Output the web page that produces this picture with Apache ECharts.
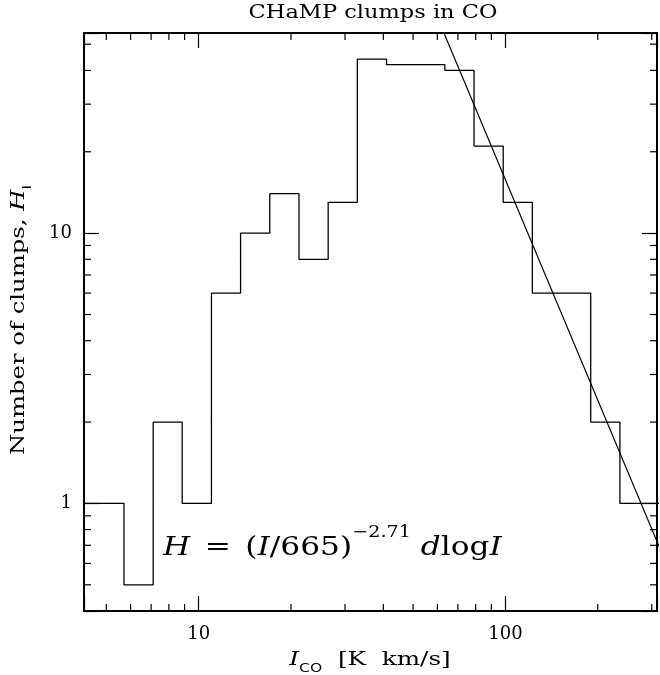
<!DOCTYPE html>
<html><head><meta charset="utf-8">
<script src="https://cdn.jsdelivr.net/npm/echarts@6/dist/echarts.min.js"></script>
<style>html,body{margin:0;padding:0;background:#fff}#c{width:660px;height:675px}</style>
</head><body><div id="c"></div>
<script>
// ---- data ----
const binEdges = [4.0, 5.71, 7.11, 8.84, 11.01, 13.70, 17.06, 21.24, 26.44, 32.91, 40.97, 51.00, 63.48, 79.02, 98.36, 122.4, 152.4, 189.7, 236.2, 340];
const counts   = [1, 0.5, 2, 1, 6, 10, 14, 8, 13, 44, 42, 42, 40, 21, 13, 6, 6, 2, 1];
const fitI = [60, 340];
const fitH = [62.9, 0.573];
const xMajorLabels = [10, 100];
const yMajorLabels = [1, 10];
const xMinorTicks = [5, 6, 7, 8, 9, 20, 30, 40, 50, 60, 70, 80, 90, 200, 300];
const yMinorTicks = [0.5, 0.6, 0.7, 0.8, 0.9, 2, 3, 4, 5, 6, 7, 8, 9, 20, 30, 40, 50];
const xRange = [4.23, 312];
const yRange = [0.4, 55];
const titleText = 'CHaMP clumps in CO';

// ---- build ----
const FONT = 'DejaVu Serif';
const histData = counts.map((c, i) => [binEdges[i], c]);
histData.push([binEdges[binEdges.length - 1], counts[counts.length - 1]]);
const fitData = fitI.map((v, i) => [v, fitH[i]]);

const labelFmt = (list) => (v) => {
  for (const t of list) if (Math.abs(v - t) / t < 1e-6) return String(t);
  return '';
};
const lineC = '#000';
function baseAxis(pos, range, showLabel, list) {
  return {
    type: 'log', logBase: 10, position: pos, min: range[0], max: range[1],
    axisLine: { show: true, onZero: false, lineStyle: { color: lineC, width: 2 } },
    axisTick: { show: true, inside: true, length: 15, lineStyle: { color: lineC, width: 1.2 } },
    axisLabel: { show: showLabel, color: '#000', fontFamily: FONT, fontSize: 18, margin: 14,
                 formatter: labelFmt(list || []) },
    splitLine: { show: false }, minorTick: { show: false }
  };
}
const xBottom = baseAxis('bottom', xRange, true, xMajorLabels);
const xTop = baseAxis('top', xRange, false);
const yLeft = baseAxis('left', yRange, true, yMajorLabels);
yLeft.axisLabel.margin = 12;
const yRight = baseAxis('right', yRange, false);

const tickStyle = { stroke: '#000', lineWidth: 1.2 };
const richBase = (size) => ({
  it: { fontFamily: FONT, fontStyle: 'italic', fontSize: size, fill: '#000', lineHeight: size + 10 },
  n: { fontFamily: FONT, fontSize: size, fill: '#000', lineHeight: size + 10 },
  sub: { fontFamily: 'DejaVu Sans', fontSize: 12, fill: '#000', lineHeight: 12, verticalAlign: 'bottom' }
});

const option = {
  animation: false,
  backgroundColor: '#fff',
  grid: { left: 84, top: 33, right: 1, bottom: 64, containLabel: false },
  xAxis: [xBottom, xTop],
  yAxis: [yLeft, yRight],
  series: [
    { type: 'line', xAxisIndex: 0, yAxisIndex: 0, data: histData, step: 'end', symbol: 'none',
      clip: true, lineStyle: { color: '#000', width: 1.3 }, silent: true },
    { type: 'line', xAxisIndex: 0, yAxisIndex: 0, data: fitData, symbol: 'none',
      clip: true, lineStyle: { color: '#000', width: 1.2 }, silent: true },
    { type: 'custom', xAxisIndex: 0, yAxisIndex: 0, silent: true,
      data: xMinorTicks.map(v => [v, 1]), encode: { x: 0, y: 1 },
      renderItem: (params, api) => {
        const cs = params.coordSys;
        const x = api.coord([api.value(0), 1])[0];
        const b = cs.y + cs.height;
        return { type: 'group', children: [
          { type: 'line', shape: { x1: x, y1: b, x2: x, y2: b - 7 }, style: tickStyle },
          { type: 'line', shape: { x1: x, y1: cs.y, x2: x, y2: cs.y + 7 }, style: tickStyle }
        ] };
      } },
    { type: 'custom', xAxisIndex: 0, yAxisIndex: 0, silent: true,
      data: yMinorTicks.map(v => [10, v]), encode: { x: 0, y: 1 },
      renderItem: (params, api) => {
        const cs = params.coordSys;
        const y = api.coord([10, api.value(1)])[1];
        const r = cs.x + cs.width;
        return { type: 'group', children: [
          { type: 'line', shape: { x1: cs.x, y1: y, x2: cs.x + 7, y2: y }, style: tickStyle },
          { type: 'line', shape: { x1: r, y1: y, x2: r - 7, y2: y }, style: tickStyle }
        ] };
      } }
  ],
  graphic: [
    { // title
      type: 'text', x: 373, y: 13, scaleX: 1.25, silent: true,
      style: { text: titleText, fontFamily: FONT, fontSize: 18, fill: '#000',
               align: 'center', verticalAlign: 'middle' }
    },
    { // x axis name
      type: 'text', x: 370, y: 660, scaleX: 1.3, silent: true,
      style: { text: '{it|I}{sub|CO}{n|  [K  km/s]}', align: 'center', verticalAlign: 'middle',
               rich: richBase(19) }
    },
    { // y axis name
      type: 'text', x: 19, y: 320, rotation: Math.PI / 2, scaleX: 1.28, silent: true,
      style: { text: '{n|Number of clumps, }{it|H}{sub|I}', align: 'center', verticalAlign: 'middle',
               rich: richBase(19) }
    },
    { // fit formula
      type: 'text', x: 163, y: 548, scaleX: 1.2, silent: true,
      style: {
        text: '{it|H}{s| }{n|=}{s| }{n|(}{it|I}{n|/665)}{sup|−2.71}{n| }{it|d}{n|log}{it|I}',
        align: 'left', verticalAlign: 'middle',
        rich: {
          it: { fontFamily: FONT, fontStyle: 'italic', fontSize: 26, fill: '#000', lineHeight: 46 },
          n: { fontFamily: FONT, fontSize: 26, fill: '#000', lineHeight: 46 },
          s: { fontFamily: FONT, fontSize: 38, fill: '#000', lineHeight: 46 },
          sup: { fontFamily: FONT, fontSize: 16, fill: '#000', lineHeight: 16, verticalAlign: 'top' }
        }
      }
    }
  ]
};
const chart = echarts.init(document.getElementById('c'), null, { renderer: 'canvas' });
chart.setOption(option);
</script>
</body></html>
